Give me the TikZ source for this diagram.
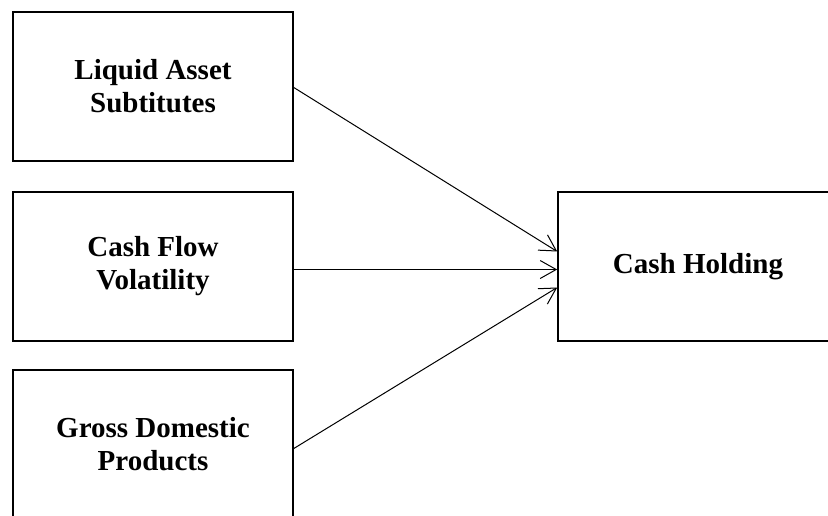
\documentclass[tikz,border=0pt]{standalone}
\usepackage{fontspec}
\setmainfont{Liberation Serif}
\usepackage{xcolor}
\usepackage{tikz}
\usetikzlibrary{arrows.meta, positioning, calc}

\begin{document}
\begin{tikzpicture}[x=1pt,y=-1pt,
    varbox/.style={draw, line width=1.6pt, minimum width=280pt, minimum height=149pt,
        inner sep=0pt, align=center, font=\bfseries\fontsize{29}{33}\selectfont},
    link/.style={line width=1pt, -{Straight Barb[length=16pt,width=18pt,line width=1pt]}}]

        \useasboundingbox (0,0) rectangle (828,515);

        %=====================
        % Determinants (left)
        %=====================
        \node[varbox] (ls)  at (153,86.5)  {Liquid Asset\\Subtitutes};
        \node[varbox] (cfv) at (153,266.5) {Cash Flow\\Volatility};
        \node[varbox] (gdp) at (153,444.5) {Gross Domestic\\Products};

        %=====================
        % Outcome (right)
        %=====================
        \node[varbox] (ch) at (698,266.5) {Cash Holding};

        %=====================
        % Links
        %=====================
        \draw[link] ([yshift=-1pt]ls.east)  -- ([yshift=15pt]ch.west);
        \draw[link] ([yshift=-3pt]cfv.east) -- ([yshift=-3pt]ch.west);
        \draw[link] ([yshift=-4pt]gdp.east) -- ([yshift=-21pt]ch.west);

    \end{tikzpicture}
\end{document}
